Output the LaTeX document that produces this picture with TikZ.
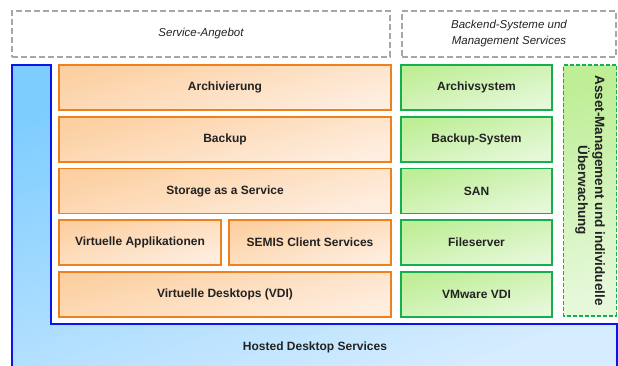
\documentclass[tikz,border=0pt]{standalone}
\usepackage{fontspec}
\setmainfont{Liberation Sans}

\definecolor{orangeline}{HTML}{F0801C}
\definecolor{orangetop}{HTML}{FCD0A2}
\definecolor{orangebot}{HTML}{FEEEE0}
\definecolor{greenline}{HTML}{14B050}
\definecolor{greentop}{HTML}{BEEE96}
\definecolor{greenbot}{HTML}{E6F8DA}
\definecolor{blueline}{HTML}{0A14F0}
\definecolor{bluetop}{HTML}{7ECDFF}
\definecolor{bluebot}{HTML}{D6ECFF}
\definecolor{greyline}{HTML}{A6A6A6}
\definecolor{textgrey}{HTML}{222222}

\tikzset{
  box/.style={line width=1.5pt, inner sep=0pt, minimum height=45pt,
    text=textgrey, font=\fontsize{12}{14}\selectfont\bfseries},
  service/.style={box, draw=orangeline, top color=orangetop, bottom color=orangebot, shading angle=15},
  backend/.style={box, draw=greenline, top color=greentop, bottom color=greenbot, shading angle=15,
    minimum width=151pt},
  header/.style={draw=greyline, dash pattern=on 6pt off 3pt, line width=1.5pt, inner sep=0pt,
    minimum height=46pt, align=center, text=textgrey,
    font=\fontsize{11.5}{16}\selectfont\itshape}
}

\begin{document}
\begin{tikzpicture}[x=1pt, y=-1pt]
    \useasboundingbox (0,0) rectangle (618,365);

    % Header boxes
    \node[header, minimum width=378pt] (angebot) at (201,34) {Service-Angebot};
    \node[header, minimum width=214pt] (backendhead) at (509,34) {Backend-Systeme und\\Management Services};

    % Hosted desktop frame
    \shade[draw=blueline, line width=1.5pt, top color=bluetop, bottom color=bluebot, shading angle=20]
        (12,65) -- (51,65) -- (51,324) -- (617,324) -- (617,368) -- (12,368) -- cycle;
    \node[text=textgrey, font=\fontsize{12}{14}\selectfont\bfseries] (hosted) at (315,347) {Hosted Desktop Services};

    % Service layers
    \node[service, minimum width=332pt] (archivierung) at (225,87.5) {Archivierung};
    \node[service, minimum width=332pt] (backup) at (225,139.5) {Backup};
    \node[service, minimum width=332pt] (storage) at (225,191) {Storage as a Service};
    \node[service, minimum width=162pt] (applikationen) at (140,242.5) {Virtuelle Applikationen};
    \node[service, minimum width=162pt] (semis) at (310,242.5) {SEMIS Client Services};
    \node[service, minimum width=332pt] (desktops) at (225,294.5) {Virtuelle Desktops (VDI)};

    % Backend systems
    \node[backend] (archivsystem) at (476.5,87.5) {Archivsystem};
    \node[backend] (backupsystem) at (476.5,139.5) {Backup-System};
    \node[backend] (san) at (476.5,191) {SAN};
    \node[backend] (fileserver) at (476.5,242.5) {Fileserver};
    \node[backend] (vmware) at (476.5,294.5) {VMware VDI};

    % Asset management
    \node[backend, rotate=-90, dash pattern=on 4pt off 2pt, minimum width=251pt, minimum height=53pt,
        align=center, font=\fontsize{13.5}{17}\selectfont\bfseries] (asset) at (590,190.5)
        {Asset-Management und individuelle\\\"Uberwachung};

\end{tikzpicture}
\end{document}
